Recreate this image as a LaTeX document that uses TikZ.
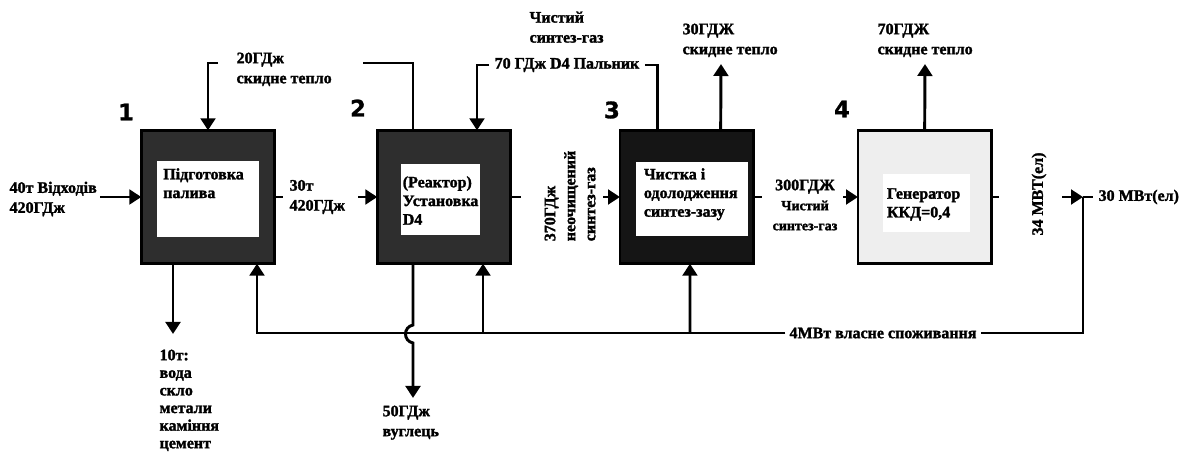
\documentclass[tikz,border=0pt]{standalone}
\usepackage{fontspec}
\setmainfont{Liberation Serif}[BoldFeatures={FakeBold=1.6}]
\newfontfamily\numfont{DejaVu Sans}[BoldFeatures={FakeBold=1.2}]
\usepackage{tikz}
\usetikzlibrary{arrows.meta,positioning,calc}
\definecolor{darkbox}{HTML}{2E2E2E}
\definecolor{blackbox}{HTML}{151515}
\definecolor{lightbox}{HTML}{EEEEEE}

\begin{document}
\begin{tikzpicture}[
  x=0.75pt,y=-0.75pt,
  font=\bfseries\fontsize{12}{15}\selectfont,
  box/.style={draw,line width=2.2pt,minimum width=100pt,minimum height=100pt,inner sep=0pt,outer sep=0pt},
  inbox/.style={fill=white,inner sep=0pt,outer sep=0pt},
  txt/.style={anchor=north west,align=left,inner sep=0pt,font=\bfseries\fontsize{12}{14}\selectfont},
  lbl/.style={align=left,inner sep=1pt},
  sml/.style={font=\bfseries\fontsize{10.5}{13}\selectfont},
  num/.style={font=\numfont\bfseries\fontsize{17}{17}\selectfont},
  ln/.style={line width=2.2pt},
  arr/.style={ln,-{Triangle[length=9pt,width=11pt]}}
]
\useasboundingbox (0,0) rectangle (1190,452);
\node[box,fill=darkbox] (prep) at (208,197) {};
\node[box,fill=darkbox,right=77pt of prep] (reac) {};
\node[box,fill=blackbox,right=82pt of reac] (clean) {};
\node[box,fill=lightbox,right=78.5pt of clean] (gen) {};

\node[inbox,minimum width=76.5pt,minimum height=57pt] (pin) at ($(prep)+(0,2)$) {};
\node[inbox,minimum width=59.25pt,minimum height=53.25pt] (rin) at ($(reac)+(-4,2.5)$) {};
\node[inbox,minimum width=84pt,minimum height=55.5pt] (cin) at ($(clean)+(5,2)$) {};
\node[inbox,minimum width=65.25pt,minimum height=43.5pt] (gin) at ($(gen)+(1.5,6)$) {};

\node[txt] (ptx) at ($(pin.north west)+(6,7)$) {Підготовка\\палива};
\node[txt] (rtx) at ($(rin.north west)+(2,12)$) {(Реактор)\\Установка\\D4};
\node[txt] (ctx) at ($(cin.north west)+(8,6)$) {Чистка і\\одолодження\\синтез-зазу};
\node[txt] (gtx) at ($(gin.north west)+(4,14)$) {Генератор\\ККД=0,4};

\node[num] (n1) at (126,112) {1};
\node[num] (n2) at (358,108) {2};
\node[num] (n3) at (612,110) {3};
\node[num] (n4) at (842,109) {4};

\node[lbl,anchor=west] (waste) at (8,199) {40т Відходів\\420ГДж};
\node[lbl,anchor=west] (fuel) at (288,197) {30т\\420ГДж};
\node[lbl,anchor=north west] (heat1) at (235,51) {20ГДж\\скидне тепло};
\node[lbl,inner sep=4pt] (burner) at (567,65) {70 ГДж D4 Пальник};
\node[lbl,anchor=north west] (pure) at (528,10) {Чистий\\синтез-газ};
\node[lbl,rotate=90] (raw) at (570,196) {370ГДж\\неочищений\\синтез-газ};
\node[lbl,anchor=north west] (heat3) at (681,22) {30ГДЖ\\скидне тепло};
\node[lbl,align=center] (pure2) at (805,205) {300ГДЖ\\\fontsize{10.5}{13}\selectfont Чистий\\\fontsize{10.5}{13}\selectfont синтез-газ};
\node[lbl,anchor=north west] (heat4) at (876,22) {70ГДЖ\\скидне тепло};
\node[lbl,rotate=90] (elec) at (1039,194) {34 МВТ(ел)};
\node[lbl,anchor=west,inner sep=4pt] (outel) at (1093,197) {30 МВт(ел)};
\node[lbl,inner sep=3pt] (own) at (883,333) {4МВт власне споживання};
\node[lbl,anchor=north west,font=\bfseries\fontsize{12}{13.2}\selectfont] (rest) at (158,348) {10т:\\вода\\скло\\метали\\каміння\\цемент};
\node[lbl,anchor=north west] (carbon) at (381,404) {50ГДж\\вуглець};

\coordinate (p0) at (100,197);
\coordinate (p1) at (283,197);
\coordinate (r0) at (358,197);
\coordinate (r1) at (521,197);
\coordinate (c0) at (603,197);
\coordinate (c1) at (762,197);
\coordinate (g0) at (843,197);
\coordinate (g1) at (999,197);
\coordinate (e0) at (1062,197);
\coordinate (tap) at (1083,197);
\coordinate (h1a) at (218,63);
\coordinate (h1b) at (363,63);
\coordinate (h3) at (721,64);
\coordinate (h4) at (925,64);
\coordinate (w0) at (173,334);
\coordinate (j2) at (483,333);
\coordinate (j3) at (690,333);
\coordinate (hopa) at (413,325);
\coordinate (hopb) at (413,343);
\coordinate (cb) at (413,398);

\draw[arr] (p0) -- (prep.west);
\draw[ln] (prep.east) -- (p1);
\draw[arr] (r0) -- (reac.west);
\draw[ln] (reac.east) -- (r1);
\draw[arr] (c0) -- (clean.west);
\draw[ln] (clean.east) -- (c1);
\draw[arr] (g0) -- (gen.west);
\draw[ln] (gen.east) -- (g1);
\draw[arr] (e0) -- (tap);
\draw[ln] (tap) -- (outel.west);

\draw[arr] (h1a) -| (prep.north);
\draw[ln] ($(reac.north)+(-31,0)$) |- (h1b);
\draw[arr] (burner.west) -| ($(reac.north)+(33,0)$);
\draw[ln] (burner.east) -| ($(clean.north)+(-29,0)$);
\draw[arr] ($(clean.north)+(34,0)$) -- (h3);
\draw[arr] (gen.north) -- (h4);

\draw[arr] ($(prep.south)+(-35,0)$) -- (w0);
\draw[arr] ($(reac.south)+(-31,0)$) -- (hopa) .. controls (403,327) and (403,341) .. (hopb) -- (cb);
\draw[ln] (tap) |- (own.east);
\draw[arr] (own.west) -| ($(prep.south)+(49,0)$);
\draw[arr] (j2) -- ($(reac.south)+(39,0)$);
\draw[arr] (j3) -- ($(clean.south)+(3.3,0)$);
\end{tikzpicture}
\end{document}
